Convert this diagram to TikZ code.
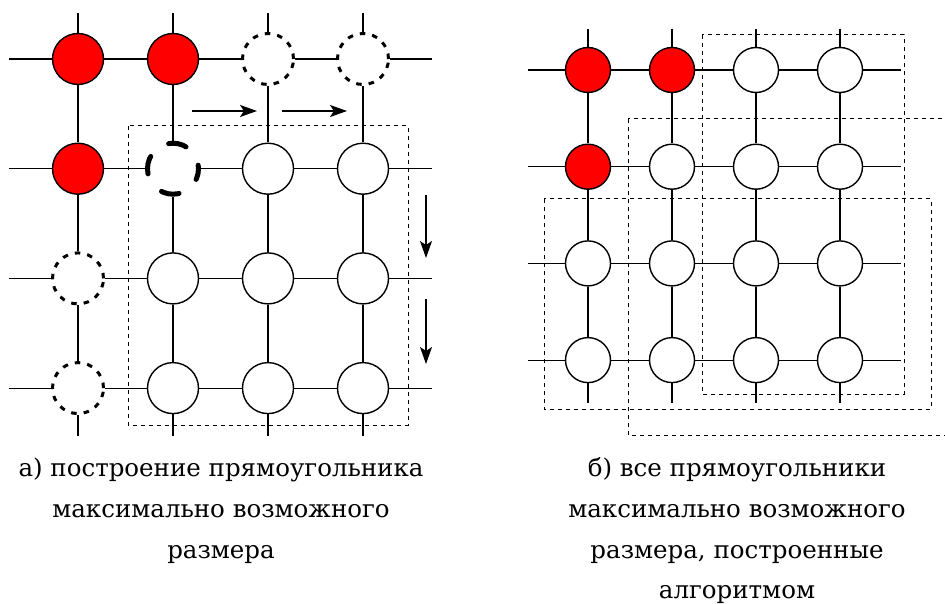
\documentclass[tikz,border=0pt]{standalone}
\usepackage{fontspec}
\setmainfont{DejaVu Serif}
\usetikzlibrary{arrows.meta}

\tikzset{
  wire/.style={line width=1.1pt},
  vtx/.style={circle, draw, line width=1.4pt, fill=white, inner sep=0pt},
  bigv/.style={vtx, minimum size=51pt},
  smallv/.style={vtx, minimum size=45pt},
  free/.style={},
  taken/.style={fill=red},
  probe/.style={dash pattern=on 5.5pt off 7.07pt, line width=3pt},
  seed/.style={dash pattern=on 18pt off 22.85pt, dash phase=14.5pt,
               line width=5pt, line cap=round},
  frame/.style={line width=1pt, dash pattern=on 4pt off 4pt},
  push/.style={line width=1.2pt, -{Stealth[length=17pt,width=12pt,inset=4pt]}},
  caption/.style={anchor=base, inner sep=0pt, font=\fontsize{24.5}{30}\selectfont}
}

\begin{document}
\begin{tikzpicture}[x=1pt,y=-1pt]
\useasboundingbox (0,0) rectangle (945,604);
\clip (0,0) rectangle (945,604);

% ---------- left grid: growing a rectangle ----------
\foreach \c/\r/\kind in {1/1/taken,2/1/taken,3/1/probe,4/1/probe,
                         1/2/taken,2/2/seed,3/2/free,4/2/free,
                         1/3/probe,2/3/free,3/3/free,4/3/free,
                         1/4/probe,2/4/free,3/4/free,4/4/free}
  \node[bigv,\kind] (a-\c-\r) at ({78+95*(\c-1)},{59+109.7*(\r-1)}) {};

\foreach \r in {1,2,3,4}{
  \foreach \c [evaluate=\c as \nc using int(\c+1)] in {1,2,3}
    \draw[wire] (a-\c-\r) -- (a-\nc-\r);
  \coordinate (aW\r) at (9,{59+109.7*(\r-1)});
  \coordinate (aE\r) at (432,{59+109.7*(\r-1)});
  \draw[wire] (aW\r) -- (a-1-\r);
  \draw[wire] (a-4-\r) -- (aE\r);
}
\foreach \c in {1,2,3,4}{
  \foreach \r [evaluate=\r as \nr using int(\r+1)] in {1,2,3}
    \draw[wire] (a-\c-\r) -- (a-\c-\nr);
  \coordinate (aN\c) at ({78+95*(\c-1)},13);
  \coordinate (aS\c) at ({78+95*(\c-1)},436);
  \draw[wire] (aN\c) -- (a-\c-1);
  \draw[wire] (a-\c-4) -- (aS\c);
}

\draw[frame] (128,126) rectangle (408,425);

% growth directions
\coordinate (h1s) at (192,111); \coordinate (h1e) at (257,111);
\coordinate (h2s) at (282,111); \coordinate (h2e) at (347,111);
\coordinate (v1s) at (426,195); \coordinate (v1e) at (426,258);
\coordinate (v2s) at (426,299); \coordinate (v2e) at (426,364);
\draw[push] (h1s) -- (h1e);
\draw[push] (h2s) -- (h2e);
\draw[push] (v1s) -- (v1e);
\draw[push] (v2s) -- (v2e);

% ---------- right grid: all maximal rectangles ----------
\foreach \c/\r/\kind in {1/1/taken,2/1/taken,3/1/free,4/1/free,
                         1/2/taken,2/2/free,3/2/free,4/2/free,
                         1/3/free,2/3/free,3/3/free,4/3/free,
                         1/4/free,2/4/free,3/4/free,4/4/free}
  \node[smallv,\kind] (b-\c-\r) at ({588+84*(\c-1)},{70+96.7*(\r-1)}) {};

\foreach \r in {1,2,3,4}{
  \foreach \c [evaluate=\c as \nc using int(\c+1)] in {1,2,3}
    \draw[wire] (b-\c-\r) -- (b-\nc-\r);
  \coordinate (bW\r) at (528,{70+96.7*(\r-1)});
  \coordinate (bE\r) at (901,{70+96.7*(\r-1)});
  \draw[wire] (bW\r) -- (b-1-\r);
  \draw[wire] (b-4-\r) -- (bE\r);
}
\foreach \c in {1,2,3,4}{
  \foreach \r [evaluate=\r as \nr using int(\r+1)] in {1,2,3}
    \draw[wire] (b-\c-\r) -- (b-\c-\nr);
  \coordinate (bN\c) at ({588+84*(\c-1)},29);
  \coordinate (bS\c) at ({588+84*(\c-1)},403);
  \draw[wire] (bN\c) -- (b-\c-1);
  \draw[wire] (b-\c-4) -- (bS\c);
}

\draw[frame] (702,35) rectangle (904,394);
\draw[frame] (628,119) rectangle (965,435);
\draw[frame] (544,199) rectangle (931,409);

% ---------- captions ----------
\node[caption] (ca1) at (221,476) {а) построение прямоугольника};
\node[caption] (ca2) at (221,517) {максимально возможного};
\node[caption] (ca3) at (221,558) {размера};

\node[caption] (cb1) at (737,476) {б) все прямоугольники};
\node[caption] (cb2) at (737,517) {максимально возможного};
\node[caption] (cb3) at (737,558) {размера, построенные};
\node[caption] (cb4) at (737,598) {алгоритмом};
\end{tikzpicture}
\end{document}
